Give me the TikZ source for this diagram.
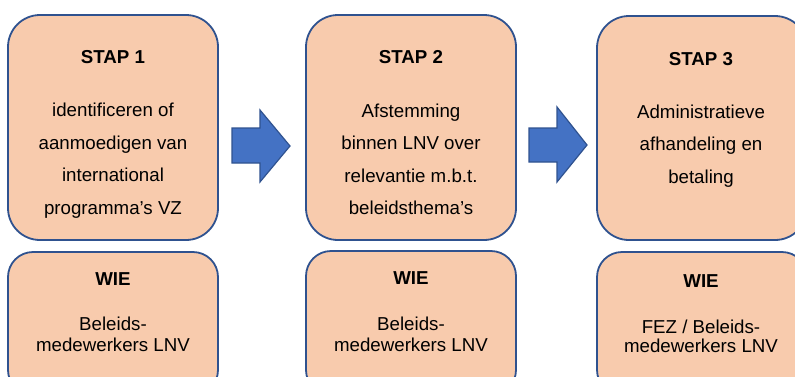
\documentclass[tikz,border=0pt]{standalone}
\usepackage{fontspec}
\setmainfont{Liberation Sans}
\definecolor{boxfill}{HTML}{F8CBAD}
\definecolor{boxline}{HTML}{2F528F}
\definecolor{arrowfill}{HTML}{4472C4}
\begin{document}
\begin{tikzpicture}[x=1pt,y=-1pt,
  stapbox/.style={draw=boxline, line width=1.8pt, fill=boxfill, rounded corners=32pt},
  wiebox/.style={draw=boxline, line width=1.8pt, fill=boxfill, rounded corners=25pt},
  blockarrow/.style={draw=boxline, line width=1.2pt, fill=arrowfill},
  txt/.style={anchor=base, inner sep=0pt, font=\fontsize{18.7}{22}\selectfont},
  ttl/.style={txt, font=\fontsize{18.7}{22}\selectfont\bfseries}]
\useasboundingbox (0,0) rectangle (795,376);
% top boxes
\draw[stapbox] (8,15) rectangle (218,240);
\draw[stapbox] (306,15) rectangle (516,240);
\draw[stapbox] (597,16) rectangle (807,240);
% lower boxes
\draw[wiebox] (8,252) rectangle (218,395);
\draw[wiebox] (306,251) rectangle (516,395);
\draw[wiebox] (597,252) rectangle (807,395);
% arrows
\draw[blockarrow] (232,128) -- (260,128) -- (260,110) -- (290,146) -- (260,182) -- (260,163) -- (232,163) -- cycle;
\draw[blockarrow] (529,128) -- (557,128) -- (557,107) -- (587,145) -- (557,182) -- (557,162) -- (529,162) -- cycle;
% box 1 texts
\node[ttl] (s1) at (113,63) {STAP 1};
\node[txt] (s1a) at (113,116.5) {identificeren of};
\node[txt] (s1b) at (113,149) {aanmoedigen van};
\node[txt] (s1c) at (113,181.5) {international};
\node[txt] (s1d) at (113,214.5) {programma’s VZ};
\node[ttl] (w1) at (113,285) {WIE};
\node[txt] (w1a) at (113,330) {Beleids-};
\node[txt] (w1b) at (113,351) {medewerkers LNV};
% box 2 texts
\node[ttl] (s2) at (411,63) {STAP 2};
\node[txt] (s2a) at (411,117) {Afstemming};
\node[txt] (s2b) at (411,149.5) {binnen LNV over};
\node[txt] (s2c) at (411,182) {relevantie m.b.t.};
\node[txt] (s2d) at (411,214.5) {beleidsthema’s};
\node[ttl] (w2) at (411,284) {WIE};
\node[txt] (w2a) at (411,330) {Beleids-};
\node[txt] (w2b) at (411,351) {medewerkers LNV};
% box 3 texts
\node[ttl] (s3) at (701,65) {STAP 3};
\node[txt] (s3a) at (701,118) {Administratieve};
\node[txt] (s3b) at (701,150.5) {afhandeling en};
\node[txt] (s3c) at (701,183) {betaling};
\node[ttl] (w3) at (701,287) {WIE};
\node[txt] (w3a) at (701,333) {FEZ / Beleids-};
\node[txt] (w3b) at (701,352) {medewerkers LNV};
\end{tikzpicture}
\end{document}
